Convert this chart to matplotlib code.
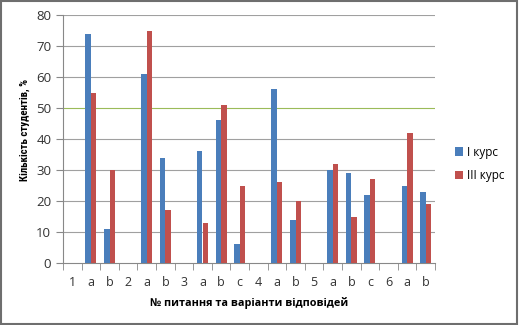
import matplotlib
matplotlib.use('Agg')
import matplotlib.pyplot as plt
import numpy as np
from matplotlib.patches import Rectangle

# Категорії: номер питання та варіанти відповіді
categories = ['1', 'a', 'b', '2', 'a', 'b', '3', 'a', 'b', 'c',
              '4', 'a', 'b', '5', 'a', 'b', 'c', '6', 'a', 'b']
kurs_1 = [0, 74, 11, 0, 61, 34, 0, 36, 46, 6,
          0, 56, 14, 0, 30, 29, 22, 0, 25, 23]
kurs_3 = [0, 55, 30, 0, 75, 17, 0, 13, 51, 25,
          0, 26, 20, 0, 32, 15, 27, 0, 42, 19]

plt.rcParams['font.family'] = ['Open Sans', 'DejaVu Sans']

fig = plt.figure(figsize=(5.19, 3.25), dpi=100)
ax = fig.add_axes([63 / 519, 1 - 263 / 325, (435 - 63) / 519, (263 - 15) / 325])

x = np.arange(len(categories))
w = 0.3
ax.bar(x - w / 2, kurs_1, width=w, color='#4A7EBB', label='I курс', zorder=3)
ax.bar(x + w / 2, kurs_3, width=w, color='#C0504D', label='III курс', zorder=3)

ax.set_xlim(-0.5, len(categories) - 0.5)
ax.set_ylim(0, 80)
ax.set_yticks(range(0, 81, 10))
ax.set_xticks(x)
ax.set_xticklabels(categories)
ax.set_xticks(np.arange(-0.5, len(categories)), minor=True)
ax.tick_params(axis='x', which='major', length=0, pad=9, labelsize=9, colors='#333333')
ax.tick_params(axis='x', which='minor', length=5, color='#888888')
ax.tick_params(axis='y', length=5, color='#888888', labelsize=9.5, labelcolor='#333333')

for v in range(10, 81, 10):
    c = '#9BBB59' if v == 50 else '#A0A0A0'
    ax.axhline(v, color=c, lw=0.8, zorder=1)

for s in ['top', 'right']:
    ax.spines[s].set_visible(False)
ax.spines['left'].set_color('#888888')
ax.spines['bottom'].set_color('#888888')

ax.set_ylabel('Кількість студентів, %', fontsize=7.8, fontweight='bold',
              family=['Liberation Sans Narrow', 'Roboto Condensed', 'Roboto', 'DejaVu Sans'])
ax.yaxis.set_label_coords(-33 / 372, (263 - 130) / 248)
ax.set_xlabel('№ питання та варіанти відповідей', fontsize=7.8, fontweight='bold', labelpad=6)

fig.legend(loc='center left', bbox_to_anchor=(450 / 519, 1 - 164 / 325), frameon=False,
           fontsize=8.5, handlelength=0.7, handleheight=0.7, handletextpad=0.3,
           labelspacing=0.9, borderaxespad=0)

fig.patches.append(Rectangle((0.002, 0.003), 0.995, 0.994, transform=fig.transFigure,
                             fill=False, edgecolor='#6E6E6E', lw=1.5))

fig.savefig('out.png', dpi=100)
